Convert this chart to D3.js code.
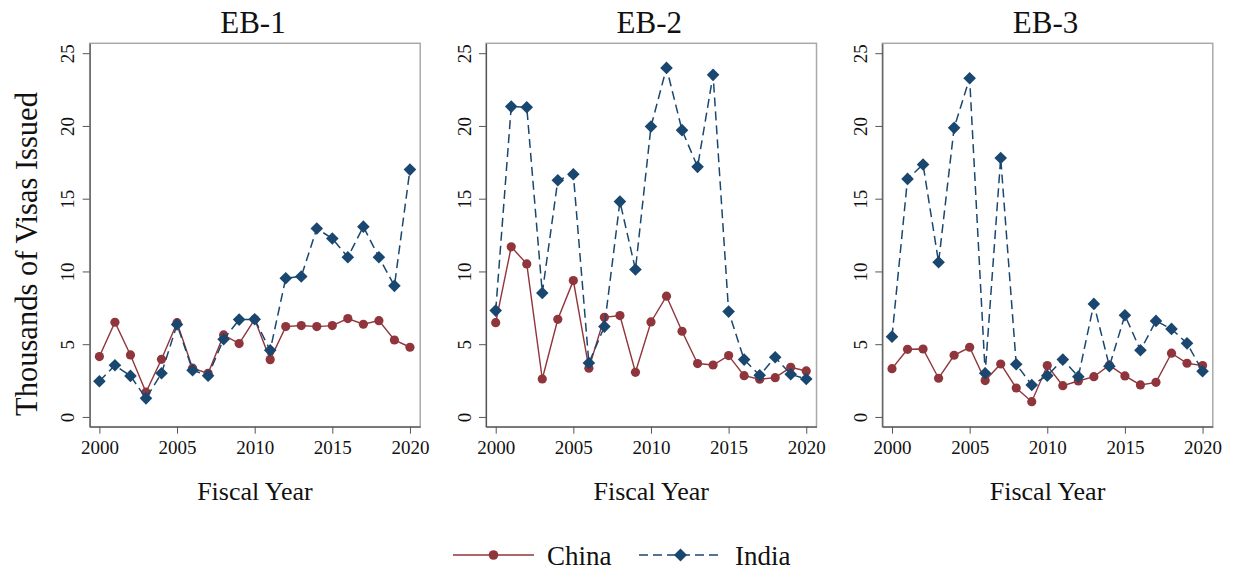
<!DOCTYPE html>
<html>
<head>
<meta charset="utf-8">
<script src="https://cdn.jsdelivr.net/npm/d3@7"></script>
<style>
  html, body { margin: 0; padding: 0; background: #fff; }
  svg { display: block; }
  text { font-family: "Liberation Serif", "Times New Roman", serif; fill: #111; }
</style>
</head>
<body>
<svg id="chart" width="1233" height="572"></svg>
<script>
// Fiscal years shown on every panel
const years = d3.range(2000, 2021);

// Panel titles (employment-based visa categories)
const categories = ["EB-1", "EB-2", "EB-3"];

// Visas issued, thousands — China
const chinaEB1 = [4.15, 6.51, 4.26, 1.70, 3.96, 6.48, 3.35, 3.00, 5.64, 5.04, 6.71, 3.94, 6.21, 6.28, 6.21, 6.28, 6.76, 6.37, 6.62, 5.29, 4.79];
const chinaEB2 = [6.48, 11.69, 10.52, 2.61, 6.71, 9.37, 3.35, 6.85, 6.97, 3.07, 6.53, 8.30, 5.89, 3.67, 3.57, 4.22, 2.84, 2.59, 2.70, 3.41, 3.16];
const chinaEB3 = [3.32, 4.65, 4.67, 2.66, 4.24, 4.79, 2.50, 3.64, 1.99, 1.05, 3.53, 2.15, 2.47, 2.77, 3.55, 2.82, 2.20, 2.38, 4.38, 3.69, 3.53];

// Visas issued, thousands — India
const indiaEB1 = [2.45, 3.55, 2.82, 1.28, 3.00, 6.35, 3.21, 2.84, 5.34, 6.69, 6.71, 4.58, 9.53, 9.65, 12.95, 12.26, 10.98, 13.08, 10.98, 9.01, 17.00];
const indiaEB2 = [7.31, 21.33, 21.29, 8.52, 16.27, 16.68, 3.71, 6.21, 14.80, 10.13, 19.96, 23.99, 19.71, 17.19, 23.51, 7.24, 3.94, 2.86, 4.10, 2.93, 2.61];
const indiaEB3 = [5.52, 16.36, 17.35, 10.63, 19.87, 23.28, 3.00, 17.80, 3.62, 2.20, 2.84, 3.94, 2.77, 7.77, 3.48, 6.99, 4.58, 6.60, 6.05, 5.06, 3.14];

// Axis ticks
const xTicks = [2000, 2005, 2010, 2015, 2020];
const yTicks = [0, 5, 10, 15, 20, 25];

const seriesNames = ["China", "India"];
const chinaByCat = [chinaEB1, chinaEB2, chinaEB3];
const indiaByCat = [indiaEB1, indiaEB2, indiaEB3];

const red = "#90353b";
const blue = "#1a476f";
const serif = '"Liberation Serif", "Times New Roman", serif';

const svg = d3.select("#chart");

const plotTop = 43.3, plotBottom = 426.7, plotW = 330.5;
const panelLefts = [89.7, 486.0, 882.3];

const y = d3.scaleLinear().domain([-0.67, 25.68]).range([plotBottom, plotTop]);

const diamondPath = (cx, cy, r) => `M${cx},${cy - r}L${cx + r},${cy}L${cx},${cy + r}L${cx - r},${cy}Z`;

categories.forEach((cat, i) => {
  const left = panelLefts[i];
  const x = d3.scaleLinear().domain([1999.375, 2020.66]).range([left, left + plotW]);
  const g = svg.append("g");

  // light frame around the plot region
  g.append("rect")
    .attr("x", left).attr("y", plotTop)
    .attr("width", plotW).attr("height", plotBottom - plotTop)
    .attr("fill", "none").attr("stroke", "#a9a9a9").attr("stroke-width", 1.5);

  // y axis
  const ya = g.append("g")
    .attr("transform", `translate(${left},0)`)
    .call(d3.axisLeft(y).tickValues(yTicks).tickSize(7).tickSizeOuter(0))
    .attr("font-family", serif)
    .attr("font-size", 19);
  ya.select(".domain").attr("stroke", "#555").attr("stroke-width", 1.2);
  ya.selectAll(".tick line").attr("stroke", "#555").attr("stroke-width", 1);
  ya.selectAll(".tick text")
    .attr("x", null).attr("dy", null)
    .attr("transform", "translate(-15.5,0) rotate(-90)")
    .attr("text-anchor", "middle")
    .attr("fill", "#111");

  // x axis
  const xa = g.append("g")
    .attr("transform", `translate(0,${plotBottom})`)
    .call(d3.axisBottom(x).tickValues(xTicks).tickFormat(d3.format("d")).tickSize(7).tickSizeOuter(0))
    .attr("font-family", serif)
    .attr("font-size", 19);
  xa.select(".domain").attr("stroke", "#555").attr("stroke-width", 1.2);
  xa.selectAll(".tick line").attr("stroke", "#555").attr("stroke-width", 1);
  xa.selectAll(".tick text")
    .attr("y", 27).attr("dy", null)
    .attr("fill", "#111");

  // panel title
  g.append("text")
    .attr("x", left + plotW / 2 - 2).attr("y", 33)
    .attr("text-anchor", "middle")
    .style("font-size", "31px")
    .text(cat);

  // x axis title
  g.append("text")
    .attr("x", left + plotW / 2).attr("y", 500)
    .attr("text-anchor", "middle")
    .style("font-size", "26px")
    .text("Fiscal Year");

  const line = d3.line().x((d, k) => x(years[k])).y(d => y(d));

  // China: solid line with circles
  g.append("path")
    .datum(chinaByCat[i])
    .attr("d", line)
    .attr("fill", "none").attr("stroke", red).attr("stroke-width", 1.4);
  g.selectAll(".china").data(chinaByCat[i]).join("circle")
    .attr("class", "china")
    .attr("cx", (d, k) => x(years[k])).attr("cy", d => y(d))
    .attr("r", 4.6).attr("fill", red);

  // India: dashed line with diamonds
  g.append("path")
    .datum(indiaByCat[i])
    .attr("d", line)
    .attr("fill", "none").attr("stroke", blue).attr("stroke-width", 1.5)
    .attr("stroke-dasharray", "9,5");
  g.selectAll(".india").data(indiaByCat[i]).join("path")
    .attr("class", "india")
    .attr("d", (d, k) => diamondPath(x(years[k]), y(d), 6.3))
    .attr("fill", blue);
});

// shared y axis title
svg.append("text")
  .attr("transform", "translate(37,254) rotate(-90)")
  .attr("text-anchor", "middle")
  .style("font-size", "30.5px")
  .text("Thousands of Visas Issued");

// legend
const legend = svg.append("g");
const legendItems = [
  { name: seriesNames[0], color: red, x0: 453, x1: 534, dash: null, marker: "circle" },
  { name: seriesNames[1], color: blue, x0: 639, x1: 722, dash: "9,5", marker: "diamond" }
];
const ly = 555;
legendItems.forEach(it => {
  legend.append("line")
    .attr("x1", it.x0).attr("x2", it.x1).attr("y1", ly).attr("y2", ly)
    .attr("stroke", it.color).attr("stroke-width", 1.5)
    .attr("stroke-dasharray", it.dash);
  const cx = (it.x0 + it.x1) / 2;
  if (it.marker === "circle") {
    legend.append("circle").attr("cx", cx).attr("cy", ly).attr("r", 4.8).attr("fill", it.color);
  } else {
    legend.append("path").attr("d", diamondPath(cx, ly, 6.5)).attr("fill", it.color);
  }
  legend.append("text")
    .attr("x", it.x1 + 13).attr("y", ly + 10)
    .style("font-size", "27px")
    .text(it.name);
});
</script>
</body>
</html>
